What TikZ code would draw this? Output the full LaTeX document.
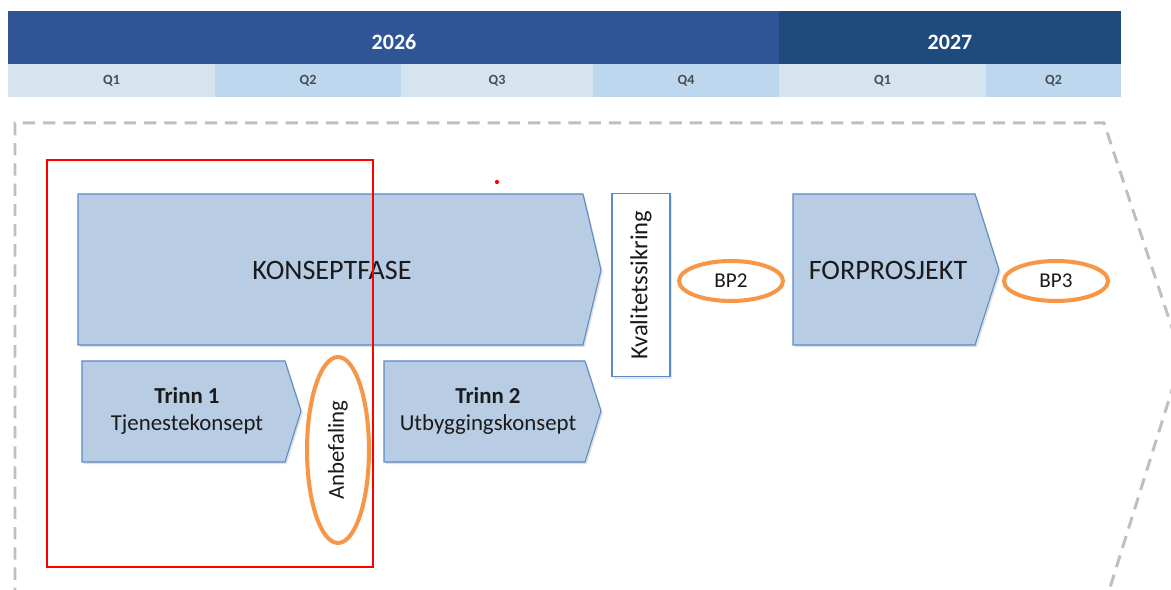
\documentclass[tikz,border=0pt]{standalone}
\usepackage{fontspec}
\setmainfont{Carlito}
\usetikzlibrary{shapes.geometric,shadows}
\definecolor{yearA}{HTML}{2F5597}
\definecolor{yearB}{HTML}{1F4A7C}
\definecolor{qlight}{HTML}{D6E4F0}
\definecolor{qmid}{HTML}{BDD7EE}
\definecolor{phasefill}{HTML}{B8CCE4}
\definecolor{phaseline}{HTML}{5B8BC8}
\definecolor{ringline}{HTML}{F79646}
\definecolor{frameline}{HTML}{BFBFBF}
\definecolor{txt}{HTML}{1A1A1A}
\begin{document}
\begin{tikzpicture}[x=0.02cm,y=-0.02cm,
	yeartext/.style={text=white,font=\fontsize{12.5}{14}\selectfont\bfseries},
	qtext/.style={text=black!70,font=\fontsize{8}{9}\selectfont\bfseries},
	phase/.style={fill=phasefill,draw=phaseline,line width=.6pt,
		drop shadow={opacity=.25,shadow xshift=1pt,shadow yshift=-1.2pt}},
	phasetext/.style={text=txt,font=\fontsize{16}{18}\selectfont},
	steptext/.style={text=txt,align=center,font=\fontsize{13}{15.5}\selectfont},
	ring/.style={ellipse,draw=ringline,line width=2.3pt,fill=white,inner sep=0pt,
		text=txt,font=\fontsize{12}{14}\selectfont},
	frame/.style={draw=frameline,line width=1.7pt,dash pattern=on 7pt off 4.5pt}]
	\useasboundingbox (0,0) rectangle (1171,590);
	% year bars
	\fill[yearA] (8,11) rectangle (779,64);
	\fill[yearB] (779,11) rectangle (1121,64);
	\node[yeartext] (y2026) at (394,42) {2026};
	\node[yeartext] (y2027) at (950,42) {2027};
	% quarters
	\foreach \a/\b/\c/\q [count=\i] in {8/215/qlight/Q1,215/401/qmid/Q2,401/593/qlight/Q3,
		593/779/qmid/Q4,779/986/qlight/Q1,986/1121/qmid/Q2} {
		\fill[\c] (\a,64) rectangle (\b,97);
		\node[qtext] (q\i) at ({(\a+\b)/2},81) {\q};
	}
	% dashed outline
	\draw[frame] (15,600) -- (15,123) -- (1104,123) -- (1182,358) -- (1108,594);
	% phases
	\draw[phase] (78,194) -- (583,194) -- (601,270) -- (583,345) -- (78,345) -- cycle;
	\node[phasetext] (konsept) at (332,270) {KONSEPTFASE};
	\draw[phase] (82,361) -- (285,361) -- (301,411) -- (285,462) -- (82,462) -- cycle;
	\node[steptext] (trinn1) at (187,411) {\textbf{Trinn 1}\\Tjenestekonsept};
	\draw[phase] (384,361) -- (585,361) -- (601,411) -- (585,462) -- (384,462) -- cycle;
	\node[steptext] (trinn2) at (488,411) {\textbf{Trinn 2}\\Utbyggingskonsept};
	\draw[phase] (793,194) -- (975,194) -- (999,270) -- (975,345) -- (793,345) -- cycle;
	\node[phasetext] (forprosjekt) at (888,270) {FORPROSJEKT};
	\node[draw=phaseline,line width=.6pt,fill=white,rotate=90,minimum width=3.66cm,
		minimum height=1.16cm,inner sep=0pt,text=txt,font=\fontsize{14}{16}\selectfont,
		drop shadow={opacity=.2,shadow xshift=1pt,shadow yshift=-1.2pt}]
		(kvalitet) at (641,285) {Kvalitetssikring};
	% decision points
	\node[ring,minimum width=2.08cm,minimum height=.8cm] (bp2) at (731,281) {BP2};
	\node[ring,minimum width=2.08cm,minimum height=.8cm] (bp3) at (1056,281) {BP3};
	\node[ring,rotate=90,minimum width=3.72cm,minimum height=1.24cm,
		font=\fontsize{13}{15}\selectfont] (anbefaling) at (338,450) {Anbefaling};
	% highlight
	\draw[red,line width=1.3pt] (47,160) rectangle (373,567);
	\fill[red] (497,182) circle (1.2pt);
\end{tikzpicture}
\end{document}
